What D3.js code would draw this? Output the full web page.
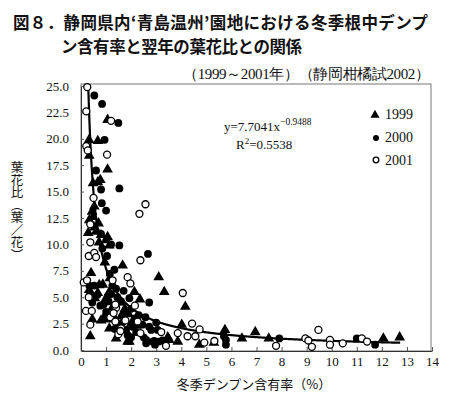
<!DOCTYPE html>
<html>
<meta charset="utf-8">
<script src="https://d3js.org/d3.v7.min.js"></script>
<style>
  body { margin: 0; background: #fff; }
  text { fill: #111; }
</style>
<body>
<div id="my_dataviz"></div>

<script>
// series values (x = starch %, y = leaf/flower ratio)
var x1999 = [1.06, 0.32, 0.67, 0.33, 1.06, 0.77, 0.48, 0.67, 0.53, 0.44, 0.48, 0.33, 0.29, 0.6, 0.8, 1.0, 1.13, 0.72,
             1.06, 1.66, 0.4, 3.1, 0.87, 0.37, 0.67, 1.13, 2.13, 3.32, 1.53, 0.8, 1.04, 0.37, 1.13, 1.4, 2.0, 1.93,
             4.16, 4.02, 5.74, 6.95, 6.42, 7.49, 3.46, 3.86, 4.72, 12.06, 12.71, 0.33, 0.73, 3.52, 1.86, 1.6, 0.95,
             1.75, 2.2, 5.3, 0.55, 1.25, 0.9, 1.5, 0.45, 1.9, 2.35, 1.15, 0.95, 0.55, 0.7];
var y1999 = [21.8, 19.9, 19.8, 18.4, 17.1, 16.1, 15.8, 15.9, 13.6, 13.1, 12.6, 12.3, 11.1, 11.2, 10.9, 10.4, 9.9, 10.2,
             10.7, 8.0, 7.3, 6.9, 6.2, 5.4, 5.4, 5.5, 5.5, 5.5, 4.5, 2.8, 2.9, 1.3, 2.05, 1.1, 2.5, 0.8,
             4.1, 2.4, 1.9, 1.7, 1.1, 1.1, 1.2, 0.8, 0.5, 1.1, 1.2, 5.7, 6.15, 0.95, 0.8, 3.2, 4.7,
             3.9, 2.3, 0.7, 4.9, 4.0, 3.0, 2.3, 2.9, 3.4, 4.8, 6.8, 8.3, 11.6, 12.0];

var x2000 = [0.53, 0.84, 1.49, 0.94, 0.6, 0.8, 1.53, 0.83, 1.0, 0.8, 1.2, 1.53, 1.04, 2.67, 1.33, 0.33, 0.53, 1.06,
             2.72, 0.77, 1.93, 1.8, 2.06, 2.57, 2.72, 2.6, 2.86, 3.06, 3.1, 2.92, 5.78, 5.78, 5.7, 7.91, 11.0, 11.73,
             1.86, 2.6, 1.2, 0.9, 1.4, 1.6, 1.0, 1.25, 1.75, 2.3, 2.45, 2.8, 2.2, 1.65, 2.95, 3.25,
             0.65, 1.1, 1.3, 1.45, 1.7, 2.0, 2.15, 0.85, 1.15, 0.45, 1.35, 2.5, 3.0, 2.0];
var y2000 = [24.1, 23.3, 21.5, 19.9, 17.0, 15.2, 15.3, 13.9, 13.2, 11.0, 10.0, 9.9, 8.9, 9.1, 7.6, 6.1, 6.1, 5.05,
             4.5, 4.2, 4.9, 1.9, 2.2, 3.1, 2.2, 0.63, 0.8, 1.9, 0.8, 0.85, 0.95, 0.5, 1.3, 1.1, 1.1, 0.5,
             1.4, 0.95, 5.3, 4.3, 5.8, 4.6, 3.6, 6.1, 3.5, 3.3, 2.4, 1.9, 1.7, 2.6, 0.5, 0.9,
             5.2, 4.6, 3.0, 5.0, 5.6, 3.9, 3.0, 9.6, 7.2, 4.5, 2.0, 1.2, 2.6, 1.2];

var x2001 = [0.25, 0.21, 1.2, 0.21, 0.27, 1.04, 0.5, 2.57, 2.33, 0.37, 0.37, 0.31, 0.53, 0.6, 2.37, 0.11, 0.24, 1.86,
             1.97, 1.26, 0.31, 1.4, 2.15, 0.2, 0.43, 0.37, 1.17, 1.3, 1.49, 1.6, 2.26, 2.37, 4.06, 4.43, 4.73, 7.78,
             8.95, 3.39, 3.86, 4.25, 4.56, 4.92, 5.32, 3.2, 9.07, 9.21, 9.47, 9.93, 9.93, 10.44, 11.2, 11.41, 1.37,
             1.77, 1.57, 1.37];
var y2001 = [24.9, 22.6, 21.7, 19.3, 18.9, 18.5, 14.4, 13.8, 12.9, 11.9, 10.2, 8.9, 9.2, 8.8, 8.5, 6.4, 6.6, 6.9,
             6.3, 6.6, 5.0, 4.0, 4.2, 3.7, 3.7, 2.4, 3.1, 3.5, 1.5, 2.05, 2.7, 1.6, 5.4, 2.5, 1.95, 0.4,
             1.1, 0.4, 1.6, 1.3, 1.3, 0.7, 0.85, 1.7, 0.9, 0.3, 1.9, 0.95, 0.5, 0.63, 1.1, 0.8, 2.7,
             2.8, 1.8, 4.3];

var xTicks = d3.range(0, 15, 1);
var yTicks = [0, 2.5, 5, 7.5, 10, 12.5, 15, 17.5, 20, 22.5, 25];
var legendYears = ["1999", "2000", "2001"];

// power fit shown on the chart
var fitA = 7.7041, fitB = -0.9488, fitXmax = 12.75;

var W = 462, H = 399;
var svg = d3.select("#my_dataviz").append("svg")
    .attr("width", W).attr("height", H);

var x = d3.scaleLinear().domain([0, 14]).range([81, 432]);
var y = d3.scaleLinear().domain([0, 25]).range([350, 86]);

var serif = "'Liberation Serif', 'DejaVu Serif', serif";
var jp = "'Noto Sans CJK JP', sans-serif";

// title
svg.append("text")
    .attr("x", 13).attr("y", 29)
    .attr("textLength", 415).attr("lengthAdjust", "spacing")
    .style("font-family", jp).style("font-weight", "bold").style("font-size", "16.5px")
    .text("図８．静岡県内‘青島温州’園地における冬季根中デンプ");
svg.append("text")
    .attr("x", 61).attr("y", 53)
    .attr("textLength", 241).attr("lengthAdjust", "spacing")
    .style("font-family", jp).style("font-weight", "bold").style("font-size", "16.5px")
    .text("ン含有率と翌年の葉花比との関係");
svg.append("text")
    .attr("x", 183).attr("y", 79)
    .attr("textLength", 247).attr("lengthAdjust", "spacing")
    .style("font-family", serif).style("font-size", "15px")
    .text("（1999～2001年）（静岡柑橘試2002）");

// frame
svg.append("rect")
    .attr("x", 81).attr("y", 84)
    .attr("width", 350).attr("height", 267)
    .attr("fill", "none").attr("stroke", "#777").attr("stroke-width", 1);

// axes with small inward ticks
svg.append("g")
    .attr("transform", "translate(0,351)")
    .call(d3.axisBottom(x).tickValues(xTicks).tickSizeInner(-4).tickSizeOuter(0).tickPadding(6).tickFormat(d3.format("d")))
    .call(function(g) { g.select(".domain").attr("stroke", "#333"); })
    .call(function(g) { g.selectAll("line").attr("stroke", "#555"); })
    .selectAll("text")
      .style("font-family", serif).style("font-size", "13px").attr("fill", "#111");

svg.append("g")
    .attr("transform", "translate(81,0)")
    .call(d3.axisLeft(y).tickValues(yTicks).tickSizeInner(-3).tickSizeOuter(0).tickPadding(12).tickFormat(d3.format(".1f")))
    .call(function(g) { g.select(".domain").attr("stroke", "#333"); })
    .call(function(g) { g.selectAll("line").attr("stroke", "#555"); })
    .selectAll("text")
      .style("font-family", serif).style("font-size", "13px").attr("fill", "#111");

// axis titles
svg.append("text")
    .attr("x", 254).attr("y", 389)
    .attr("text-anchor", "middle")
    .style("font-family", jp).style("font-size", "13px")
    .text("冬季デンプン含有率（%）");

svg.append("text")
    .attr("x", 17).attr("y", 161)
    .style("writing-mode", "vertical-rl")
    .style("font-family", jp).style("font-size", "12.5px")
    .text("葉花比（葉／花）");

// fitted curve
var fitX = d3.range(0.29, fitXmax, 0.02);
var line = d3.line()
    .x(function(d) { return x(d); })
    .y(function(d) { return y(Math.min(25, fitA * Math.pow(d, fitB))); });
svg.append("path")
    .datum(fitX)
    .attr("d", line)
    .attr("fill", "none").attr("stroke", "#000").attr("stroke-width", 2.2);

// points
var tri = d3.symbol().type(d3.symbolTriangle).size(50);
function pairs(xs, ys) { return xs.map(function(v, i) { return [v, ys[i]]; }); }

svg.append("g").selectAll("path")
    .data(pairs(x1999, y1999)).enter().append("path")
    .attr("d", tri)
    .attr("transform", function(d) { return "translate(" + x(d[0]) + "," + y(d[1]) + ")"; })
    .attr("fill", "#000");

svg.append("g").selectAll("circle")
    .data(pairs(x2000, y2000)).enter().append("circle")
    .attr("cx", function(d) { return x(d[0]); })
    .attr("cy", function(d) { return y(d[1]); })
    .attr("r", 3.9).attr("fill", "#000");

svg.append("g").selectAll("circle")
    .data(pairs(x2001, y2001)).enter().append("circle")
    .attr("cx", function(d) { return x(d[0]); })
    .attr("cy", function(d) { return y(d[1]); })
    .attr("r", 3.5).attr("fill", "#fff").attr("stroke", "#000").attr("stroke-width", 1.3);

// equation
var eq = svg.append("text")
    .attr("x", 224).attr("y", 131)
    .style("font-family", serif).style("font-size", "13px");
eq.append("tspan").text("y=7.7041x");
eq.append("tspan").attr("dy", -6).style("font-size", "9.5px").text("−0.9488");

var r2 = svg.append("text")
    .attr("x", 236).attr("y", 149)
    .style("font-family", serif).style("font-size", "13px");
r2.append("tspan").text("R");
r2.append("tspan").attr("dy", -5).style("font-size", "9px").text("2");
r2.append("tspan").attr("dy", 5).text("=0.5538");

// legend
var leg = svg.append("g");
leg.append("path")
    .attr("d", d3.symbol().type(d3.symbolTriangle).size(36))
    .attr("transform", "translate(375,115)").attr("fill", "#000");
leg.append("circle").attr("cx", 376).attr("cy", 138).attr("r", 3).attr("fill", "#000");
leg.append("circle").attr("cx", 376).attr("cy", 160).attr("r", 2.8)
    .attr("fill", "#fff").attr("stroke", "#000").attr("stroke-width", 1.3);
leg.selectAll("text")
    .data(legendYears).enter().append("text")
    .attr("x", 385)
    .attr("y", function(d, i) { return 119 + i * 23; })
    .style("font-family", serif).style("font-size", "14px")
    .text(function(d) { return d; });
</script>
</body>
</html>
